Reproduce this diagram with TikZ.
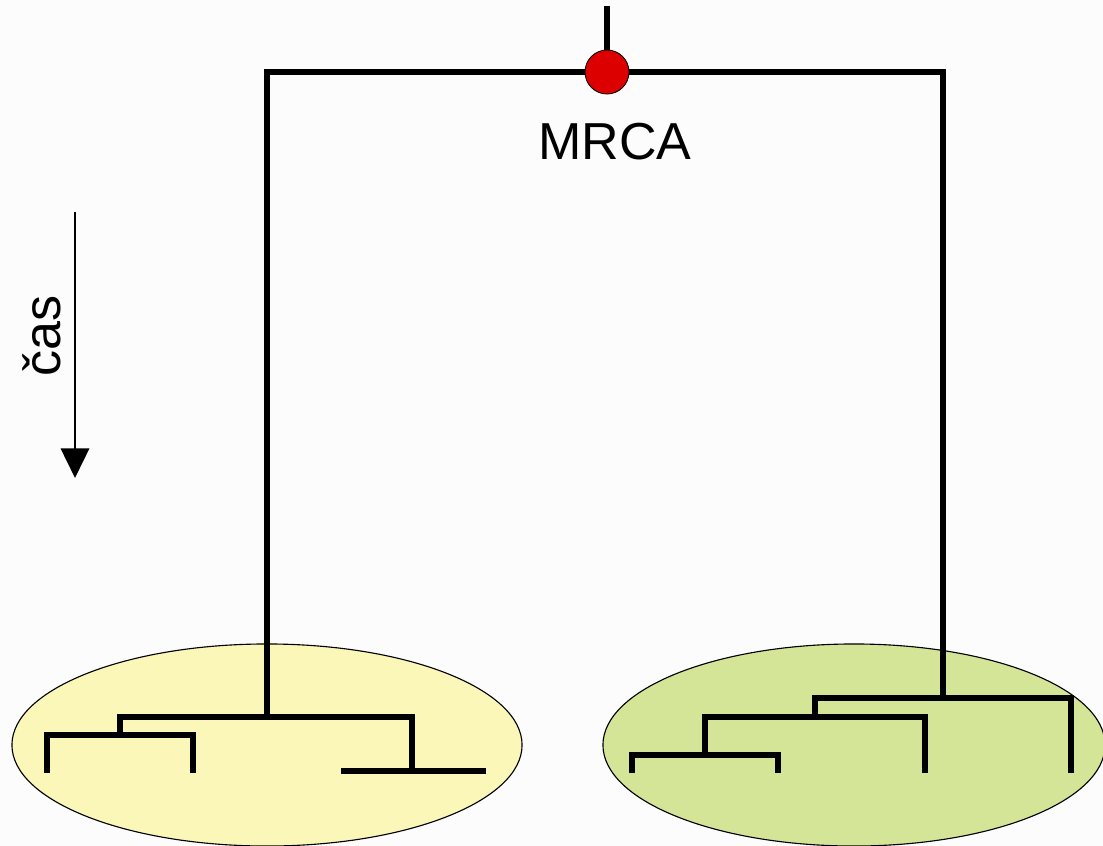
\documentclass[tikz,border=0pt]{standalone}
\usepackage{fontspec}
\setmainfont{Liberation Sans}
\usetikzlibrary{arrows.meta,shapes.geometric}

\definecolor{bgcol}{HTML}{FCFCFC}
\definecolor{popyellow}{HTML}{FBF7B8}
\definecolor{popgreen}{HTML}{D4E598}
\definecolor{dotred}{HTML}{DD0000}

\begin{document}
\begin{tikzpicture}[
  x=0.025cm,y=-0.025cm,
  branch/.style={line width=4.3pt},
  pop/.style={ellipse,draw,line width=0.8pt,inner sep=0pt,minimum height=5.05cm},
  mrcadot/.style={circle,draw,fill=dotred,line width=0.6pt,inner sep=0pt,minimum size=1.1cm},
  lbl/.style={font=\fontsize{37}{44}\selectfont}
]
  \useasboundingbox (0,0) rectangle (1103,846);
  \fill[bgcol] (0,0) rectangle (1103,846);

  % populations
  \node[pop,fill=popyellow,minimum width=12.75cm] (popL) at (267,745) {};
  \node[pop,fill=popgreen,minimum width=12.55cm]  (popR) at (854,745) {};

  % tree vertices
  \coordinate (top) at (607,6);
  \coordinate (m)   at (607,72);
  \coordinate (L)   at (267,717);
  \coordinate (L1)  at (120,735);
  \coordinate (L2)  at (412,771);
  \coordinate (a)   at (47,773);
  \coordinate (b)   at (193,773);
  \coordinate (c)   at (341,771);
  \coordinate (d)   at (486,771);
  \coordinate (R)   at (943,698);
  \coordinate (R1)  at (815,717);
  \coordinate (R2)  at (705,755);
  \coordinate (e)   at (632,773);
  \coordinate (f)   at (778,773);
  \coordinate (g)   at (925,773);
  \coordinate (h)   at (1071,773);

  % branches
  \draw[branch] (top) -- (m);
  \draw[branch] (m) -| (L);
  \draw[branch] (m) -| (R);
  \draw[branch] (L) -| (L1);
  \draw[branch] (L) -| (L2);
  \draw[branch] (L1) -| (a);
  \draw[branch] (L1) -| (b);
  \draw[branch] (L2) -| (c);
  \draw[branch] (L2) -| (d);
  \draw[branch] (R) -| (R1);
  \draw[branch] (R) -| (h);
  \draw[branch] (R1) -| (R2);
  \draw[branch] (R1) -| (g);
  \draw[branch] (R2) -| (e);
  \draw[branch] (R2) -| (f);

  \node[mrcadot] (mrca) at (m) {};
  \node[lbl] (mrcalbl) at (615,142) {MRCA};

  % time axis
  \coordinate (t0) at (75,212);
  \coordinate (t1) at (75,478);
  \draw[line width=2.1pt,-{Triangle[width=20pt,length=21pt]}] (t0) -- (t1);
  \node[lbl,rotate=90] (timelbl) at (42,336) {čas};
\end{tikzpicture}
\end{document}
